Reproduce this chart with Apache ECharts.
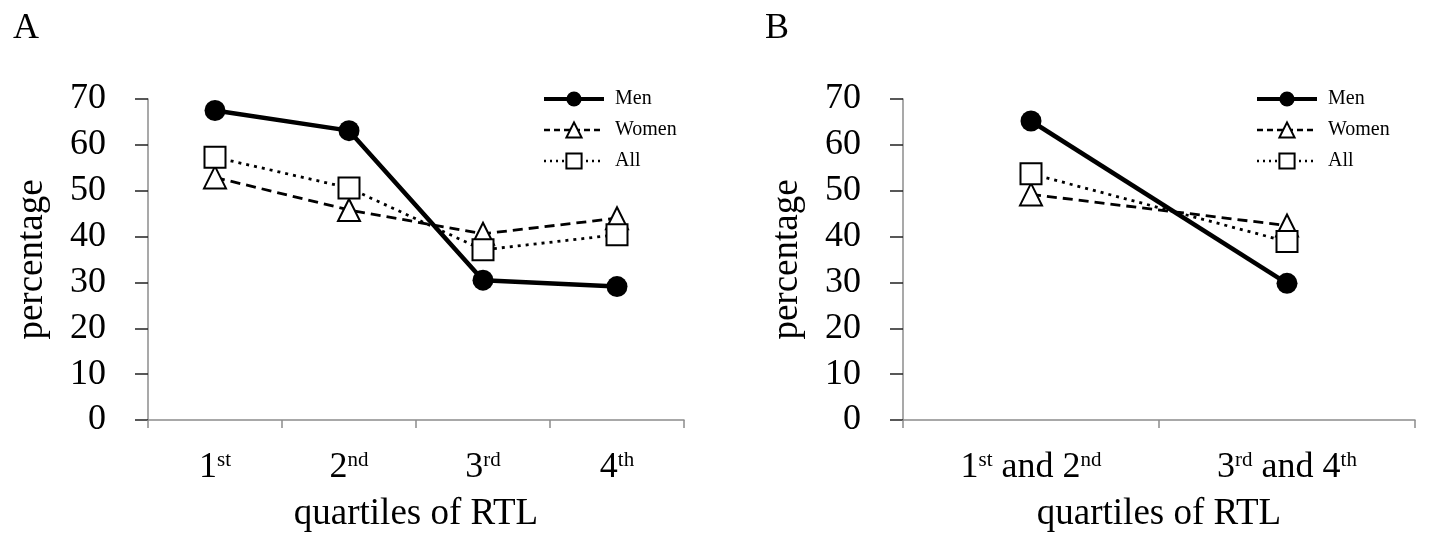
<!DOCTYPE html>
<html lang="en">
<head>
    <meta charset="UTF-8">
    <title>Percentage by quartiles of RTL</title>
    <script src="https://cdn.jsdelivr.net/npm/echarts@6/dist/echarts.min.js"></script>
    <style>
        body { margin: 0; background: #fff; }
    </style>
</head>
<body>
    <div id="main" style="width: 1439px; height: 542px;"></div>

    <script type="text/javascript">
        // categories (rich text tags mark the superscripts)
        const quartileLabels = ['1{s|st}', '2{s|nd}', '3{s|rd}', '4{s|th}'];
        const pairLabels = ['1{s|st} and 2{s|nd}', '3{s|rd} and 4{s|th}'];

        // panel A values (%)
        const menA = [67.5, 63.1, 30.5, 29.1];
        const womenA = [52.9, 45.8, 40.6, 44.0];
        const allA = [57.3, 50.6, 37.1, 40.4];

        // panel B values (%)
        const menB = [65.2, 29.8];
        const womenB = [49.2, 42.4];
        const allB = [53.7, 38.9];

        // y axis ticks
        const yMin = 0, yMax = 70, yStep = 10;

        const serif = '"Liberation Serif", "Times New Roman", serif';

        function xAxisFor(idx, labels) {
            return {
                type: 'category',
                gridIndex: idx,
                data: labels,
                boundaryGap: true,
                name: 'quartiles of RTL',
                nameLocation: 'middle',
                nameGap: 76,
                nameTextStyle: {fontFamily: serif, fontSize: 37, color: '#000'},
                axisLine: {show: true, lineStyle: {color: '#8c8c8c', width: 1.5}},
                axisTick: {show: true, interval: 0, alignWithLabel: false, length: 8, lineStyle: {color: '#8c8c8c', width: 1.5}},
                axisLabel: {
                    interval: 0,
                    margin: 30,
                    fontFamily: serif, fontSize: 36, color: '#000',
                    rich: {
                        s: {fontFamily: serif, fontSize: 21, color: '#000', verticalAlign: 'top'}
                    }
                }
            }
        }

        function yAxisFor(idx) {
            return {
                type: 'value',
                gridIndex: idx,
                min: yMin, max: yMax, interval: yStep,
                name: 'percentage',
                nameLocation: 'middle',
                nameGap: 97,
                nameTextStyle: {fontFamily: serif, fontSize: 37, color: '#000'},
                splitLine: {show: false},
                axisLine: {show: true, lineStyle: {color: '#8c8c8c', width: 1.5}},
                axisTick: {show: true, length: 13, lineStyle: {color: '#222', width: 1.5}},
                axisLabel: {margin: 42, fontFamily: serif, fontSize: 36, color: '#000'}
            }
        }

        function seriesFor(idx, men, women, all) {
            return [
                {
                    name: 'Men', type: 'line', xAxisIndex: idx, yAxisIndex: idx,
                    data: men, symbol: 'circle', symbolSize: 21,
                    lineStyle: {color: '#000', width: 4.5},
                    itemStyle: {color: '#000'},
                    z: 3
                },
                {
                    name: 'Women', type: 'line', xAxisIndex: idx, yAxisIndex: idx,
                    data: women, symbol: 'triangle', symbolSize: 22,
                    lineStyle: {color: '#000', width: 2.8, type: [10, 6]},
                    itemStyle: {color: '#fff', borderColor: '#000', borderWidth: 2},
                    z: 4
                },
                {
                    name: 'All', type: 'line', xAxisIndex: idx, yAxisIndex: idx,
                    data: all, symbol: 'rect', symbolSize: 21,
                    lineStyle: {color: '#000', width: 2.8, type: [3, 5]},
                    itemStyle: {color: '#fff', borderColor: '#000', borderWidth: 2},
                    z: 5
                }
            ]
        }

        function legendAt(left) {
            return {
                orient: 'vertical',
                left: left, top: 84,
                itemWidth: 60, itemHeight: 19, itemGap: 11,
                data: [
                    {name: 'Men', lineStyle: {width: 4, color: '#000'}},
                    {name: 'Women', lineStyle: {width: 2.5, color: '#000', type: [6, 4]}},
                    {name: 'All', lineStyle: {width: 2.5, color: '#000', type: [2, 4]}}
                ],
                textStyle: {fontFamily: serif, fontSize: 20, color: '#000', padding: [0, 0, 0, 6]}
            }
        }

        let options = {
            animation: false,
            backgroundColor: '#fff',
            title: [
                {text: 'A', left: 8, top: 6, textStyle: {fontFamily: serif, fontSize: 36, fontWeight: 'normal', color: '#000'}},
                {text: 'B', left: 760, top: 6, textStyle: {fontFamily: serif, fontSize: 36, fontWeight: 'normal', color: '#000'}}
            ],
            legend: [legendAt(537), legendAt(1250)],
            grid: [
                {left: 148, top: 99, width: 536, height: 321},
                {left: 903, top: 99, width: 512, height: 321}
            ],
            xAxis: [xAxisFor(0, quartileLabels), xAxisFor(1, pairLabels)],
            yAxis: [yAxisFor(0), yAxisFor(1)],
            series: [...seriesFor(0, menA, womenA, allA), ...seriesFor(1, menB, womenB, allB)]
        }

        let myChart = echarts.init(document.getElementById('main'))
        myChart.setOption(options);
    </script>
</body>
</html>
